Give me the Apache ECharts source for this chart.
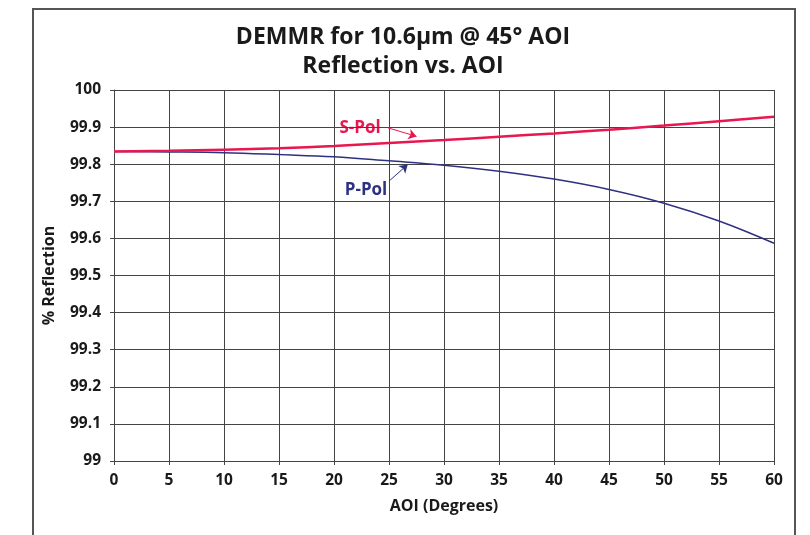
<!DOCTYPE html>
<html>
<head>
<meta charset="utf-8">
<script src="https://cdn.jsdelivr.net/npm/echarts@6/dist/echarts.min.js"></script>
<style>
  html, body { margin: 0; padding: 0; background: #fff; }
  #chart { width: 810px; height: 535px; }
</style>
</head>
<body>
<div id="chart"></div>
<script>
// Angle of incidence (degrees)
const aoi = [0, 5, 10, 15, 20, 25, 30, 35, 40, 45, 50, 55, 60];
// % reflection, s-polarisation
const sPol = [99.834, 99.836, 99.839, 99.843, 99.849, 99.857, 99.865, 99.874, 99.883, 99.893, 99.904, 99.916, 99.928];
// % reflection, p-polarisation
const pPol = [99.834, 99.833, 99.831, 99.826, 99.820, 99.809, 99.797, 99.781, 99.760, 99.732, 99.695, 99.647, 99.587];

const titleLines = ['DEMMR for 10.6\u00b5m @ 45\u00b0 AOI', 'Reflection vs. AOI'];
const FONT = '"Open Sans", Lato, sans-serif';
const RED = '#e8174f';
const NAVY = '#2e3180';

const chart = echarts.init(document.getElementById('chart'), null, { renderer: 'canvas' });

chart.setOption({
  animation: false,
  backgroundColor: '#fff',
  title: {
    text: titleLines.join('\n'),
    left: 398,
    textAlign: 'center',
    top: 18,
    textStyle: { fontFamily: FONT, fontWeight: 'bold', fontSize: 23, color: '#1a1a1a', lineHeight: 29 }
  },
  grid: { left: 114, right: 36, top: 90, bottom: 74 },
  xAxis: {
    type: 'value', min: 0, max: 60, interval: 5,
    name: 'AOI (Degrees)', nameLocation: 'middle', nameGap: 37,
    nameTextStyle: { fontFamily: FONT, fontWeight: 'bold', fontSize: 16, color: '#1a1a1a' },
    axisLine: { show: true, lineStyle: { color: '#444', width: 1 } },
    axisTick: { show: true, length: 4, lineStyle: { color: '#444' } },
    axisLabel: { fontFamily: FONT, fontWeight: 'bold', fontSize: 15.5, color: '#1a1a1a', margin: 12 },
    splitLine: { show: true, lineStyle: { color: '#444', width: 1 } }
  },
  yAxis: {
    type: 'value', min: 99, max: 100, interval: 0.1,
    name: '% Reflection', nameLocation: 'middle', nameGap: 57, nameRotate: 90,
    nameTextStyle: { fontFamily: FONT, fontWeight: 'bold', fontSize: 16, color: '#1a1a1a' },
    axisLine: { show: true, lineStyle: { color: '#444', width: 1 } },
    axisTick: { show: true, length: 4, lineStyle: { color: '#444' } },
    axisLabel: { fontFamily: FONT, fontWeight: 'bold', fontSize: 15.5, color: '#1a1a1a', margin: 13 },
    splitLine: { show: true, lineStyle: { color: '#444', width: 1 } }
  },
  series: [
    {
      name: 'S-Pol', type: 'line', smooth: 0.4, showSymbol: false,
      data: aoi.map((a, i) => [a, sPol[i]]),
      lineStyle: { color: RED, width: 2.5 },
      z: 3,
      markLine: {
        silent: true, symbol: ['none', 'arrow'], symbolSize: 8,
        lineStyle: { color: RED, width: 1, type: 'solid' },
        label: { show: false },
        data: [[{ coord: [24.9, 99.898] }, { coord: [27.5, 99.875] }]]
      }
    },
    {
      name: 'P-Pol', type: 'line', smooth: 0.4, showSymbol: false,
      data: aoi.map((a, i) => [a, pPol[i]]),
      lineStyle: { color: NAVY, width: 1.5 },
      z: 2,
      markLine: {
        silent: true, symbol: ['none', 'arrow'], symbolSize: 8,
        lineStyle: { color: NAVY, width: 1, type: 'solid' },
        label: { show: false },
        data: [[{ coord: [25.1, 99.757] }, { coord: [26.7, 99.799] }]]
      }
    }
  ],
  graphic: [
    {
      type: 'rect', shape: { x: 33, y: 9, width: 762, height: 540 },
      style: { fill: 'none', stroke: '#555', lineWidth: 2 }, silent: true, z: 10
    },
    {
      type: 'text', x: 360, y: 128,
      style: { text: 'S-Pol', fill: RED, font: 'bold 17px ' + FONT, align: 'center', verticalAlign: 'middle' }
    },
    {
      type: 'text', x: 366, y: 190,
      style: { text: 'P-Pol', fill: NAVY, font: 'bold 17px ' + FONT, align: 'center', verticalAlign: 'middle' }
    }
  ]
});
</script>
</body>
</html>
